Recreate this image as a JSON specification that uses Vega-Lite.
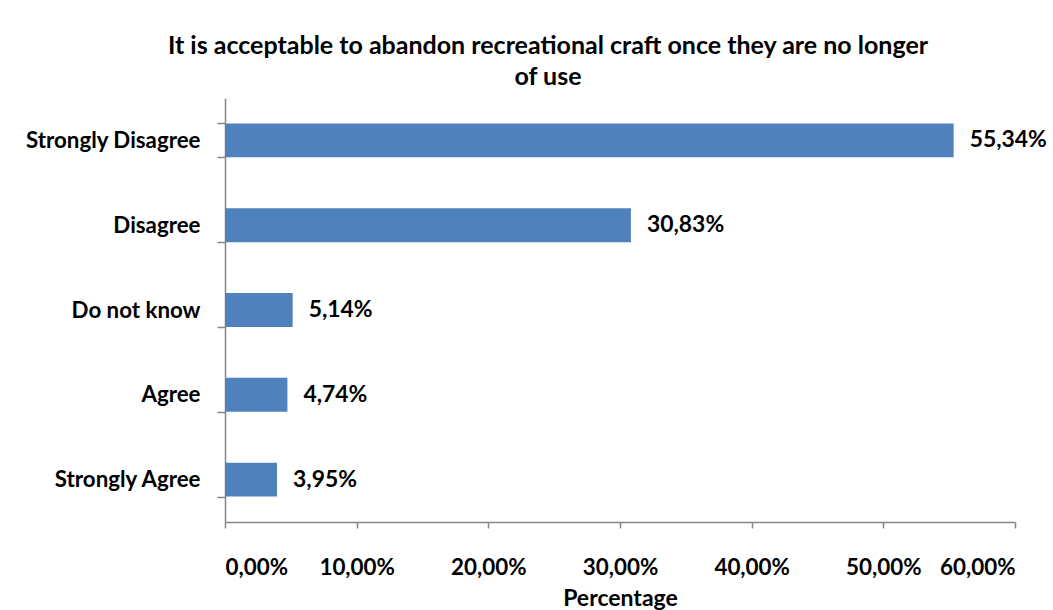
{
  "$schema": "https://vega.github.io/schema/vega-lite/v6.json",
  "autosize": {"type": "none"},
  "width": 790,
  "height": 424,
  "padding": {"left": 225, "top": 98, "right": 38, "bottom": 88},
  "background": "white",
  "config": {
    "locale": {"number": {"decimal": ",", "thousands": ".", "grouping": [3], "currency": ["", " €"]}},
    "view": {"stroke": null},
    "font": "Lato"
  },
  "title": {
    "text": ["It is acceptable to abandon recreational craft once they are no longer", "of use"],
    "anchor": "middle",
    "frame": "group",
    "dx": -72,
    "fontSize": 25,
    "fontWeight": "bold",
    "font": "Lato",
    "lineHeight": 31,
    "color": "#000000",
    "offset": -3
  },
  "data": {
    "values": [
      {"category": "Strongly Disagree", "value": 0.5534},
      {"category": "Disagree", "value": 0.3083},
      {"category": "Do not know", "value": 0.0514},
      {"category": "Agree", "value": 0.0474},
      {"category": "Strongly Agree", "value": 0.0395}
    ]
  },
  "encoding": {
    "y": {
      "field": "category",
      "type": "nominal",
      "sort": null,
      "scale": {"paddingInner": 0.6, "paddingOuter": 0.3},
      "axis": {
        "title": null,
        "tickBand": "extent",
        "tickSize": 8,
        "labelPadding": 17,
        "labelFontSize": 22.3,
        "labelFontWeight": "bold",
        "labelFont": "Lato",
        "labelColor": "#000000",
        "domainColor": "#868686",
        "tickColor": "#868686",
        "domainWidth": 1.5,
        "tickWidth": 1.5
      }
    },
    "x": {
      "field": "value",
      "type": "quantitative",
      "scale": {"domain": [0, 0.6], "nice": false},
      "axis": {
        "title": "Percentage",
        "values": [0, 0.1, 0.2, 0.3, 0.4, 0.5, 0.6],
        "format": ".2%",
        "grid": false,
        "tickSize": 6,
        "labelPadding": 28,
        "labelFontSize": 22.4,
        "labelFontWeight": "bold",
        "labelFont": "Lato",
        "labelColor": "#000000",
        "titleFontSize": 23,
        "titleFontWeight": "bold",
        "titleFont": "Lato",
        "titleColor": "#000000",
        "titlePadding": 9,
        "domainColor": "#868686",
        "tickColor": "#868686",
        "domainWidth": 1.5,
        "tickWidth": 1.5
      }
    }
  },
  "layer": [
    {"mark": {"type": "bar", "color": "#4F81BD"}},
    {
      "mark": {"type": "text", "align": "left", "baseline": "middle", "dx": 16, "fontSize": 22.9, "fontWeight": "bold", "font": "Lato", "color": "#000000"},
      "encoding": {"text": {"field": "value", "type": "quantitative", "format": ".2%"}}
    }
  ]
}
